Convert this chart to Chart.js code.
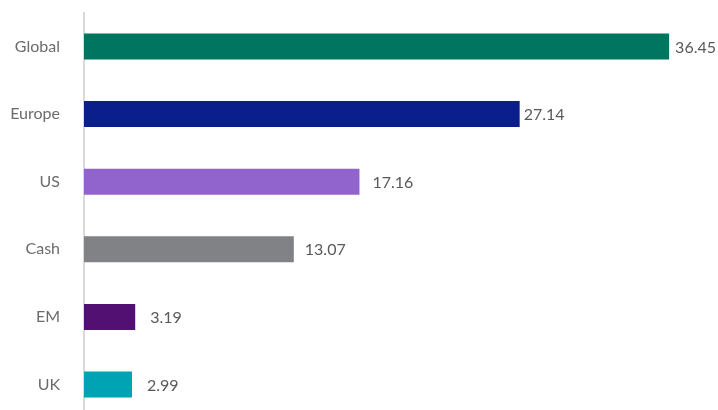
<!DOCTYPE html>
<html>
<head>
<meta charset="utf-8">
<script src="https://cdn.jsdelivr.net/npm/chart.js@4.4.1/dist/chart.umd.min.js"></script>
<style>
  html, body { margin: 0; padding: 0; background: #fff; overflow: hidden; }
  #wrap { position: relative; width: 718px; height: 457px; top: -13.4px; }
</style>
</head>
<body>
<div id="wrap"><canvas id="chartRegioni"></canvas></div>
<script>
// dati
const categorie = ["Global", "Europe", "US", "Cash", "EM", "UK"];
const valori = [36.45, 27.14, 17.16, 13.07, 3.19, 2.99];
const colori = ["#00755F", "#0A1E8C", "#9063CD", "#818286", "#531073", "#00A3B3"];
// distanza etichetta valore dalla fine della barra (px)
const distanzaEtichetta = [6, 4, 13, 11, 15, 15];

// ================================
//   ETICHETTE VALORI A DESTRA
// ================================
const etichetteValori = {
  id: "etichetteValori",
  afterDatasetsDraw(chart) {
    const ctx = chart.ctx;
    const meta = chart.getDatasetMeta(0);
    ctx.save();
    ctx.font = "16px Lato";
    ctx.fillStyle = "#595959";
    ctx.textAlign = "left";
    ctx.textBaseline = "middle";
    meta.data.forEach((bar, i) => {
      ctx.fillText(valori[i].toFixed(2), bar.x + distanzaEtichetta[i], bar.y + 1);
    });
    ctx.restore();
  }
};

new Chart(document.getElementById("chartRegioni"), {
  type: "bar",
  data: {
    labels: categorie,
    datasets: [{
      data: valori,
      backgroundColor: colori,
      borderWidth: 0,
      barPercentage: 0.77,
      categoryPercentage: 0.5
    }]
  },
  options: {
    indexAxis: "y",
    responsive: true,
    maintainAspectRatio: false,
    animation: false,
    layout: { padding: { top: 12, right: 24, bottom: 2, left: 0 } },
    plugins: { legend: { display: false }, tooltip: { enabled: false } },
    scales: {
      x: { display: false, min: 0, max: 38 },
      y: {
        grid: { display: false },
        border: { display: true, color: "#d9d9d9", width: 2 },
        ticks: { color: "#6b6b6b", font: { family: "Lato", size: 16 }, padding: 16 },
        afterFit(scale) { scale.width = 84; }
      }
    }
  },
  plugins: [etichetteValori]
});
</script>
</body>
</html>
